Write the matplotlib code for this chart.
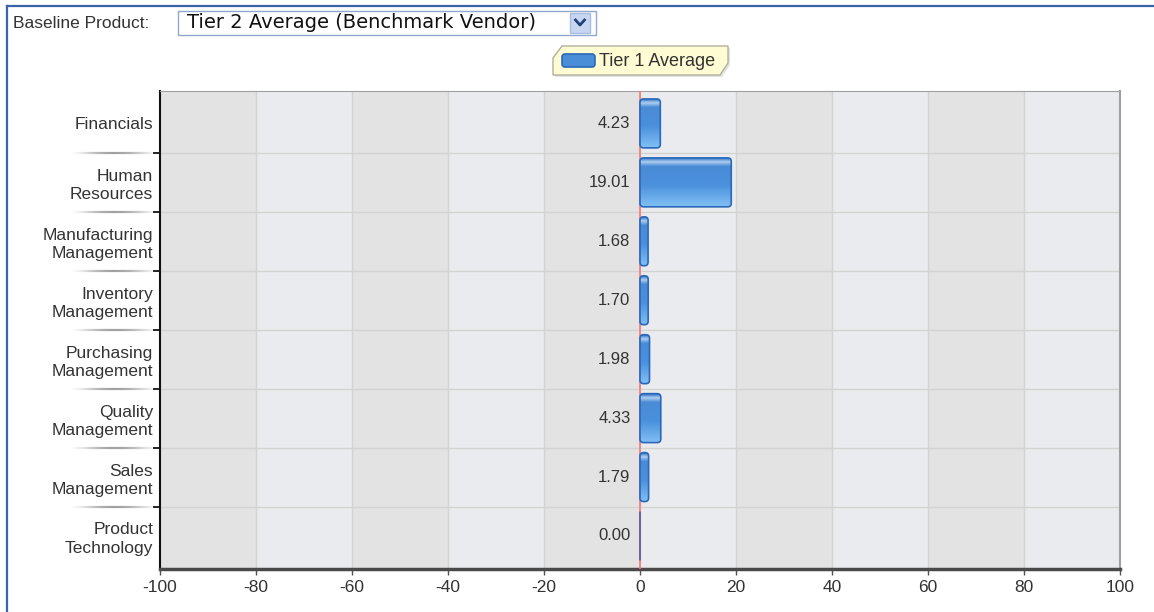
import numpy as np
import matplotlib
matplotlib.use("Agg")
import matplotlib.pyplot as plt
import matplotlib.transforms as mtransforms
from matplotlib.patches import FancyBboxPatch, Rectangle, Polygon
from matplotlib.lines import Line2D
from matplotlib.colors import LinearSegmentedColormap

plt.rcParams['font.family'] = ['Liberation Sans', 'DejaVu Sans']

# data
categories = ["Financials", "Human\nResources", "Manufacturing\nManagement",
              "Inventory\nManagement", "Purchasing\nManagement",
              "Quality\nManagement", "Sales\nManagement", "Product\nTechnology"]
values = [4.23, 19.01, 1.68, 1.70, 1.98, 4.33, 1.79, 0.00]
x_ticks = list(range(-100, 101, 20))
legend_label = "Tier 1 Average"
baseline_label = "Baseline Product:"
baseline_value = "Tier 2 Average (Benchmark Vendor)"

W, H = 1154, 612
fig = plt.figure(figsize=(W / 100, H / 100), dpi=100)
# pixel coords, origin top-left
px = mtransforms.Affine2D().scale(1 / W, -1 / H).translate(0, 1) + fig.transFigure

ax = fig.add_axes([160 / W, 1 - 569 / H, 960 / W, 478 / H])
ax.set_facecolor('none')

# alternating column bands + grid
for i, (a, b) in enumerate(zip(x_ticks[:-1], x_ticks[1:])):
    ax.axvspan(a, b, color='#e3e3e4' if i % 2 == 0 else '#e9ebee', lw=0, zorder=0)
for t in x_ticks[1:-1]:
    ax.axvline(t, color='#d3d3d3', lw=1, zorder=1)
ypos = np.arange(len(categories))
for b in ypos[:-1] + 0.5:
    ax.axhline(b, color='#d3d3d3', lw=1, zorder=1)

# bars with rounded corners and gradient fill
bars = ax.barh(ypos, values, height=0.83, color='none', edgecolor='none', zorder=2)
bar_cmap = LinearSegmentedColormap.from_list(
    'bar', [(0, '#3a7dcf'), (0.07, '#b2cff0'), (0.16, '#4a8bd5'),
            (0.55, '#4a90dc'), (1, '#82c0f4')])
grad = np.linspace(0, 1, 80).reshape(-1, 1)
for rect in bars:
    x0, y0 = rect.get_x(), rect.get_y()
    w, h = rect.get_width(), rect.get_height()
    rs = min(0.75, w / 2)
    patch = FancyBboxPatch((x0, y0), w, h,
                           boxstyle=f"round,pad=0,rounding_size={rs}",
                           mutation_aspect=0.08, facecolor='none',
                           edgecolor='#2a68b8' if w > 0 else '#5a5aa0',
                           lw=1.2, zorder=5)
    ax.add_patch(patch)
    if w > 0:
        im = ax.imshow(grad, extent=[x0, x0 + w, y0 + h, y0], aspect='auto',
                       cmap=bar_cmap, zorder=4, interpolation='bilinear')
        im.set_clip_path(patch)

ax.axvline(0, color='#f07a7a', lw=1.2, zorder=3)

for y, v in zip(ypos, values):
    ax.text(-2.0, y, f"{v:.2f}", ha='right', va='center', fontsize=12,
            color='#333333', zorder=6)

ax.set_xlim(-100, 100)
ax.set_ylim(len(categories) - 0.44, -0.55)
ax.set_xticks(x_ticks)
ax.set_xticklabels([str(t) for t in x_ticks])
ax.set_yticks(ypos)
ax.set_yticklabels(categories, linespacing=1.3)
ax.set_yticks(ypos[:-1] + 0.5, minor=True)
ax.tick_params(axis='y', which='major', length=0, pad=5, labelsize=12.5,
               labelcolor='#333333')
ax.tick_params(axis='y', which='minor', length=5, width=1.3, color='#111111')
ax.tick_params(axis='x', length=4, width=1, color='#555555', pad=4,
               labelsize=12.5, labelcolor='#333333')

ax.spines['left'].set_color('#111111')
ax.spines['left'].set_linewidth(1.5)
ax.spines['bottom'].set_color('#4a4a4a')
ax.spines['bottom'].set_linewidth(2.5)
ax.spines['top'].set_color('#a0a0a0')
ax.spines['right'].set_color('#a0a0a0')
ax.spines['right'].set_linewidth(1.5)

# faded separator lines left of the axis
sep = mtransforms.blended_transform_factory(px, ax.transData)
xs = np.linspace(70, 156, 30)
for xa, xb in zip(xs[:-1], xs[1:]):
    m = (xa + xb) / 2
    alpha = 0.55 * np.sin(np.pi * (m - 70) / 90) ** 1.5
    for b in ypos[:-1] + 0.5:
        fig.add_artist(Line2D([xa, xb], [b, b], transform=sep, color='#555555',
                              alpha=alpha, lw=1.6, solid_capstyle='butt'))

# frame border
fig.add_artist(Line2D([7, W], [6, 6], transform=px, color='#3a64a8', lw=1.6))
fig.add_artist(Line2D([7, 7], [6, H], transform=px, color='#3a64a8', lw=1.6))

# baseline selector
fig.text(13, 23, baseline_label, transform=px, fontsize=12.5, va='center',
         color='#333333')
fig.add_artist(Rectangle((178, 11), 418, 24, transform=px, facecolor='white',
                         edgecolor='#8fa8cc', lw=1))
fig.text(187, 23, baseline_value, transform=px, fontsize=14, va='center',
         family='DejaVu Sans', color='#111111')
fig.add_artist(Rectangle((570, 13), 20, 20, transform=px, facecolor='#c8d6f2',
                         edgecolor='#a8bce2', lw=1))
fig.add_artist(Line2D([575.5, 580, 584.5], [20, 25, 20], transform=px,
                      color='#22407a', lw=2))

# legend tag
shape = [(553, 58), (562, 46), (728, 46), (728, 63), (720, 75), (553, 75)]
fig.add_artist(Polygon([(x + 2, y + 2) for x, y in shape], transform=px,
                       facecolor='#bbbbbb', edgecolor='none', alpha=0.4))
fig.add_artist(Polygon(shape, transform=px, facecolor='#fffbd2',
                       edgecolor='#b0b09a', lw=1))
fig.add_artist(FancyBboxPatch((562, 54), 33, 13, transform=px,
                              boxstyle="round,pad=0,rounding_size=3",
                              facecolor='#4a8ed8', edgecolor='#2a68b8', lw=1.2))
fig.text(599, 61, legend_label, transform=px, fontsize=13, va='center',
         color='#333333')

fig.savefig("out.png", dpi=100)
